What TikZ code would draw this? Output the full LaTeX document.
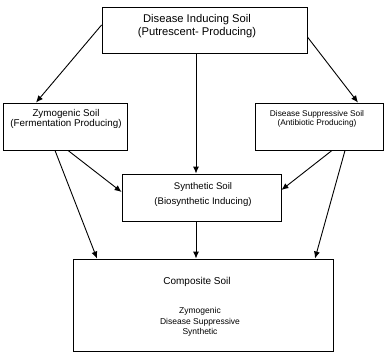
\documentclass[tikz,border=0pt]{standalone}
\usepackage{fontspec}
\setmainfont{Liberation Sans}
\usetikzlibrary{arrows.meta}
\begin{document}
\begin{tikzpicture}[x=1pt,y=-1pt,
  box/.style={draw=black,line width=0.9pt,rectangle,inner sep=0pt},
  txt/.style={inner sep=0pt,align=center},
  conn/.style={line width=0.9pt,-{Latex[length=7pt,width=6pt]}}]
\useasboundingbox (0,0) rectangle (385,354);
\node[box,minimum width=205pt,minimum height=46pt] (top) at (204.5,30) {};
\node[txt,font=\fontsize{11.2}{13}\selectfont] (toptext) at (197,26.5) {Disease Inducing Soil\\(Putrescent- Producing)};
\node[box,minimum width=124pt,minimum height=47pt] (left) at (65,126.5) {};
\node[txt,font=\fontsize{9.8}{10.5}\selectfont] (lefttext) at (66,119) {Zymogenic Soil\\(Fermentation Producing)};
\node[box,minimum width=128pt,minimum height=47pt] (right) at (319,126.5) {};
\node[txt,font=\fontsize{8.3}{9}\selectfont] (righttext) at (317,119) {Disease Suppressive Soil\\(Antibiotic Producing)};
\node[box,minimum width=159pt,minimum height=47pt] (mid) at (201.5,197.5) {};
\node[txt,font=\fontsize{9.6}{15}\selectfont] (midtext) at (203,195) {Synthetic Soil\\(Biosynthetic Inducing)};
\node[box,minimum width=260pt,minimum height=92pt] (comp) at (203,305) {};
\node[txt,font=\fontsize{10}{12}\selectfont] (comptitle) at (197,282) {Composite Soil};
\node[txt,font=\fontsize{8.5}{10.5}\selectfont] (complist) at (200,322) {Zymogenic\\Disease Suppressive\\Synthetic};
\draw[conn] ([yshift=5pt]top.west) -- ([xshift=-29pt]left.north);
\draw[conn] ([yshift=-7pt]top.east) -- ([xshift=39pt]right.north);
\draw[conn] ([xshift=-8.5pt]top.south) -- ([xshift=-5.5pt]mid.north);
\draw[conn] ([xshift=3pt]left.south) -- ([yshift=5.5pt]mid.west);
\draw[conn] ([xshift=-10pt]left.south) -- ([xshift=-106pt]comp.north);
\draw[conn] ([xshift=13pt]right.south) -- ([yshift=7.5pt]mid.east);
\draw[conn] ([xshift=26pt]right.south) -- ([xshift=112pt]comp.north);
\draw[conn] ([xshift=-5.5pt]mid.south) -- ([xshift=-7pt]comp.north);
\end{tikzpicture}
\end{document}
